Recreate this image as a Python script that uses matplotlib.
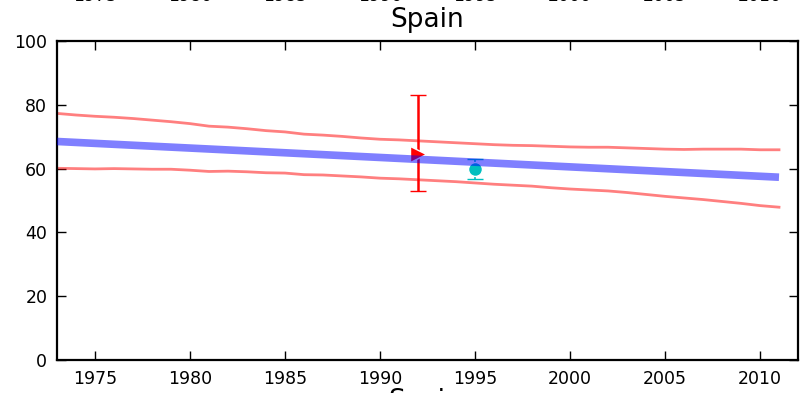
import matplotlib
matplotlib.use("Agg")
import matplotlib.pyplot as plt
import matplotlib.transforms as mtransforms

years = list(range(1973, 2012))
upper = [77.3, 76.8, 76.4, 76.1, 75.7, 75.2, 74.7, 74.1, 73.3, 73.0,
         72.5, 71.9, 71.5, 70.8, 70.5, 70.1, 69.6, 69.2, 69.0, 68.7,
         68.4, 68.1, 67.8, 67.5, 67.3, 67.2, 67.0, 66.8, 66.7, 66.7,
         66.5, 66.3, 66.1, 66.0, 66.1, 66.1, 66.1, 65.9, 65.9]
lower = [60.1, 60.0, 59.9, 60.0, 59.9, 59.8, 59.8, 59.5, 59.1, 59.2,
         59.0, 58.7, 58.6, 58.1, 58.0, 57.7, 57.4, 57.0, 56.8, 56.5,
         56.2, 55.9, 55.5, 55.1, 54.8, 54.5, 54.0, 53.6, 53.3, 53.0,
         52.5, 51.9, 51.3, 50.8, 50.3, 49.7, 49.1, 48.4, 47.9]
trend_years = [1973, 2011]
trend_vals = [68.5, 57.3]

tri_year, tri_val, tri_lo, tri_hi = 1992, 64.6, 53.0, 83.1
dot_year, dot_val, dot_lo, dot_hi = 1995, 59.9, 56.6, 63.1

xticks = [1975, 1980, 1985, 1990, 1995, 2000, 2005, 2010]
yticks = [0, 20, 40, 60, 80, 100]
title = "Spain"

fig = plt.figure(figsize=(8.01, 3.93), dpi=100)
ax = fig.add_axes([57/801, 33/393, 741/801, 319/393])

ax.plot(years, upper, color="r", alpha=0.5, lw=2)
ax.plot(years, lower, color="r", alpha=0.5, lw=2)

ax.errorbar([tri_year], [tri_val], yerr=[[tri_val - tri_lo], [tri_hi - tri_val]],
            fmt=">", color="r", ecolor="r", elinewidth=1.8, capsize=6, capthick=1.8,
            markersize=11, markeredgecolor="white", markeredgewidth=1, zorder=3)
ax.errorbar([dot_year], [dot_val], yerr=[[dot_val - dot_lo], [dot_hi - dot_val]],
            fmt="o", color="c", ecolor="c", elinewidth=1.2, capsize=6, capthick=1.2,
            markersize=10, markeredgecolor="white", markeredgewidth=1, zorder=3)

ax.plot(trend_years, trend_vals, color="b", alpha=0.5, lw=5.5, solid_capstyle="butt", zorder=4)

ax.set_xlim(1973, 2012)
ax.set_ylim(0, 100)
ax.set_xticks(xticks)
ax.set_yticks(yticks)
ax.tick_params(direction="in", length=6.5, width=1, labelsize=12.5,
               top=True, right=True, pad=7)
for s in ax.spines.values():
    s.set_linewidth(1.6)
ax.set_title(title, fontsize=19, pad=10)

# partial tick labels of the panel above (cut off by the figure edge)
trans = mtransforms.blended_transform_factory(ax.transData, fig.transFigure)
for t in xticks:
    fig.text(t, 1 - 1/393, str(t), transform=trans, ha="center", va="baseline", fontsize=12.5)
# partial title of the panel below
fig.text(0.531, -15/393, title, ha="center", va="baseline", fontsize=19)

fig.savefig("out.png", dpi=100)
